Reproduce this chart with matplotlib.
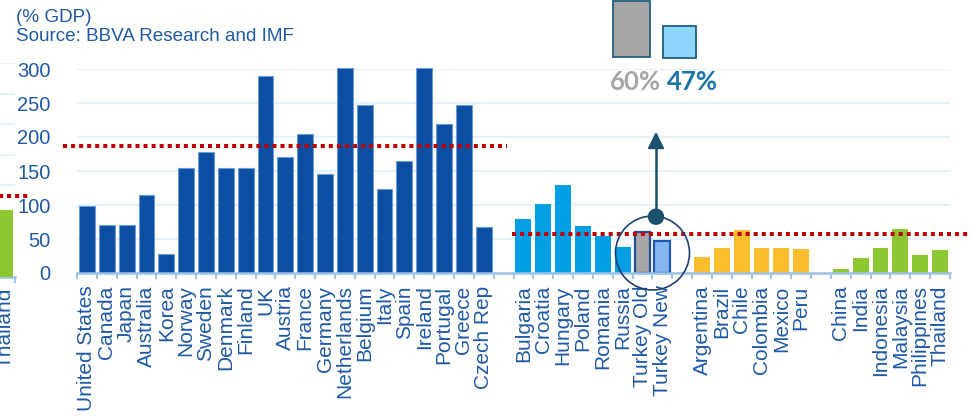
import matplotlib
matplotlib.use("Agg")
import matplotlib.pyplot as plt
from matplotlib.patches import Rectangle, Circle, Polygon
import numpy as np

plt.rcParams['font.family'] = ['Liberation Sans', 'DejaVu Sans']

# ---------------- data ----------------
developed = ["United States", "Canada", "Japan", "Australia", "Korea", "Norway", "Sweden",
             "Denmark", "Finland", "UK", "Austria", "France", "Germany", "Netherlands",
             "Belgium", "Italy", "Spain", "Ireland", "Portugal", "Greece", "Czech Rep"]
developed_vals = [98, 71, 71, 114, 28, 154, 178, 154, 154, 289, 171, 205, 146, 302,
                  247, 124, 164, 302, 219, 247, 68]

em_europe = ["Bulgaria", "Croatia", "Hungary", "Poland", "Romania", "Russia",
             "Turkey Old", "Turkey New"]
em_europe_vals = [79, 101, 129, 69, 54, 38, 60, 47]

latam = ["Argentina", "Brazil", "Chile", "Colombia", "Mexico", "Peru"]
latam_vals = [23.5, 37, 63, 37, 37, 35]

asia = ["China", "India", "Indonesia", "Malaysia", "Philippines", "Thailand"]
asia_vals = [6, 22, 37, 65, 26.5, 34]

developed_avg = 187
emerging_avg = 57

yticks = [0, 50, 100, 150, 200, 250, 300]

# partial previous chart at left edge
prev_label = ["Thailand"]
prev_vals = [44]
prev_avg = 53
prev_grid = [60, 80, 100, 120, 140]

inset_labels = ["60%", "47%"]

# ---------------- styles ----------------
C_DEV = "#0B4EA2"
C_EE = "#009FE3"
C_LA = "#FDBE2D"
C_AS = "#8DC731"
C_OLD = "#A6A6A6"
C_NEW = "#84B6F4"
C_TXT = "#1F5AA6"
C_GRID = "#E5F1FB"
C_AXIS = "#9DC3E6"
C_RED = "#C00000"
C_TEAL = "#1A4F6E"

W, H = 971, 417
fig = plt.figure(figsize=(W / 100, H / 100), dpi=100)


def fx(x):
    return x / W


def fy(y):
    return 1 - y / H


# ---------------- main axes ----------------
ax = fig.add_axes([fx(77), fy(273), 873 / W, 204 / H])

groups = [(developed, developed_vals, C_DEV, 0),
          (em_europe, em_europe_vals, C_EE, 22),
          (latam, latam_vals, C_LA, 31),
          (asia, asia_vals, C_AS, 38)]

positions, labels = [], []
for names, vals, col, start in groups:
    xs = np.arange(start, start + len(names))
    cols = [col] * len(names)
    ecs = ["none"] * len(names)
    lws = [0] * len(names)
    if names is developed:
        ecs = ["#6A9BD8"] * len(names)
        lws = [0.8] * len(names)
    if names is em_europe:
        cols[6] = C_OLD
        cols[7] = C_NEW
        ecs[6] = "#1F4E9B"
        ecs[7] = "#2257B0"
        lws[6] = 1.6
        lws[7] = 1.6
    ax.bar(xs, vals, width=0.8, color=cols, edgecolor=ecs, linewidth=lws,
           zorder=3, clip_on=False)
    positions.extend(xs)
    labels.extend(names)

ax.set_xlim(-0.5, 43.5)
ax.set_ylim(0, 300)
ax.set_yticks(yticks)
ax.set_yticklabels([str(v) for v in yticks], fontsize=14.5, color=C_TXT)
ax.tick_params(axis='y', length=0, pad=19)
ax.yaxis.grid(True, color=C_GRID, linewidth=1.5, zorder=0)
ax.set_axisbelow(True)

ax.set_xticks(positions)
ax.set_xticklabels(labels, rotation=90, fontsize=15, color=C_TXT, va='top', ha='center')
ax.tick_params(axis='x', which='major', length=0, pad=9)
ax.set_xticks(np.arange(-0.5, 44, 1.0), minor=True)
ax.tick_params(axis='x', which='minor', length=4, width=1.4, color=C_AXIS)

for s in ['top', 'right', 'left']:
    ax.spines[s].set_visible(False)
ax.spines['bottom'].set_color(C_AXIS)
ax.spines['bottom'].set_linewidth(1.8)
ax.spines['bottom'].set_zorder(4)

# average lines
ax.plot([-1.2, 21.17], [developed_avg, developed_avg], color=C_RED, lw=2.9,
        linestyle=(0, (1, 1)), dash_capstyle='butt', clip_on=False, zorder=5)
ax.plot([21.43, 44.6], [emerging_avg, emerging_avg], color=C_RED, lw=2.9,
        linestyle=(0, (1, 1)), dash_capstyle='butt', clip_on=False, zorder=5)

# ---------------- overlay (annotations) ----------------
ov = fig.add_axes([0, 0, 1, 1], zorder=10)
ov.set_xlim(0, W)
ov.set_ylim(H, 0)
ov.axis('off')

ov.add_patch(Circle((652.5, 253), 37, fill=False, edgecolor="#1F3F73", lw=1.2))
ov.plot([656, 656], [216.7, 147], color=C_TEAL, lw=1.8)
ov.add_patch(Polygon([[648.5, 148.5], [663.5, 148.5], [656, 133.3]], closed=True,
                     color=C_TEAL))
ov.add_patch(Circle((656, 216.7), 7.5, color=C_TEAL))

ov.add_patch(Rectangle((613, 1), 37, 55.7, facecolor=C_OLD, edgecolor="#1F5F7F", lw=1.3))
ov.add_patch(Rectangle((662.5, 26), 33, 32.3, facecolor="#8ED6FB", edgecolor="#1F5F7F", lw=1.3))
ov.text(610, 90, inset_labels[0], fontsize=18.5, fontweight='bold', color="#A6A6A6",
        family=['Lato', 'DejaVu Sans'], va='baseline', ha='left')
ov.text(667, 90, inset_labels[1], fontsize=18.5, fontweight='bold', color="#1B75A8",
        family=['Lato', 'DejaVu Sans'], va='baseline', ha='left')

# titles
fig.text(fx(16), fy(21.5), "(% GDP)", fontsize=13.6, color=C_TXT, va='baseline', ha='left')
fig.text(fx(16), fy(41), "Source: BBVA Research and IMF", fontsize=13.6, color=C_TXT,
         va='baseline', ha='left')

# ---------------- partial previous chart at left edge ----------------
axl = fig.add_axes([fx(-4.84), fy(276.7), 19.84 / W, 213.4 / H])
axl.bar([0], prev_vals, width=0.8, color=C_AS, zorder=3)
axl.set_xlim(-0.5, 0.5)
axl.set_ylim(0, 140)
axl.set_yticks(prev_grid)
axl.yaxis.grid(True, color=C_GRID, linewidth=1.5, zorder=0)
axl.tick_params(axis='y', length=0, labelleft=False)
axl.set_xticks([0])
axl.set_xticklabels(prev_label, rotation=90, fontsize=15, color=C_TXT, va='top')
axl.tick_params(axis='x', which='major', length=0, pad=8)
axl.set_xticks([-0.5, 0.5], minor=True)
axl.tick_params(axis='x', which='minor', length=4, width=1.4, color=C_AXIS)
for s in ['top', 'right', 'left']:
    axl.spines[s].set_visible(False)
axl.spines['bottom'].set_color(C_AXIS)
axl.spines['bottom'].set_linewidth(1.8)
axl.plot([-0.5, 1.26], [prev_avg, prev_avg], color=C_RED, lw=2.9,
         linestyle=(0, (1, 1)), dash_capstyle='butt', clip_on=False, zorder=5)

fig.savefig("out.png", dpi=100)
